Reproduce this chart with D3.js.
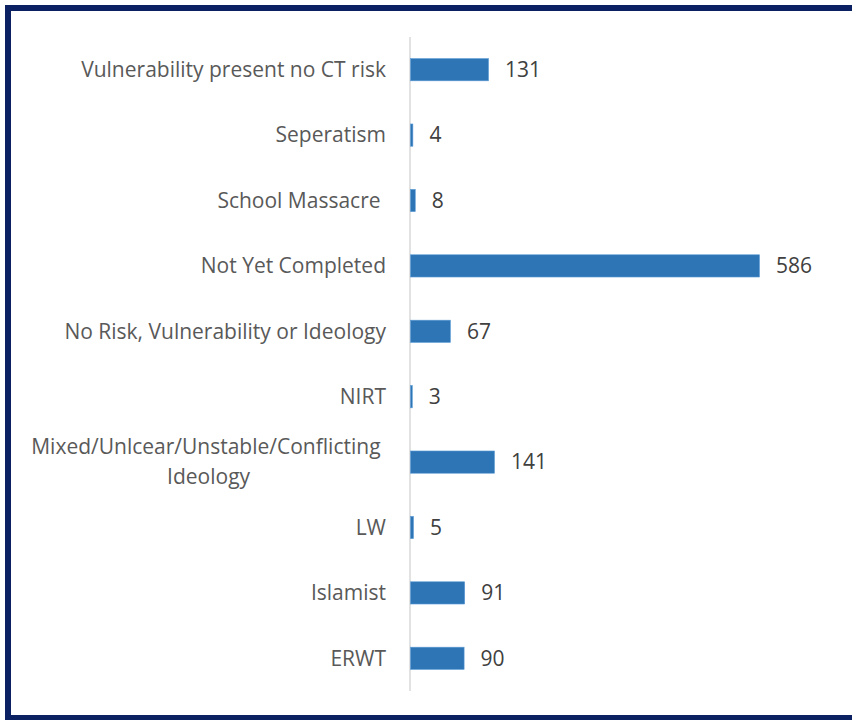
<!DOCTYPE html>
<html>
<head>
<meta charset="utf-8">
<script src="https://cdn.jsdelivr.net/npm/d3@7"></script>
<style>
  html, body { margin: 0; padding: 0; background: #fff; }
  text { white-space: pre; }
</style>
</head>
<body>
<div id="chart"></div>
<script>
// Categories, top to bottom, and their counts
var categories = [
    "Vulnerability present no CT risk",
    "Seperatism",
    "School Massacre ",
    "Not Yet Completed",
    "No Risk, Vulnerability or Ideology",
    "NIRT",
    "Mixed/Unlcear/Unstable/Conflicting \nIdeology",
    "LW",
    "Islamist",
    "ERWT"
];
var values = [131, 4, 8, 586, 67, 3, 141, 5, 91, 90];

var width = 852, height = 720;
var font = "'Open Sans', sans-serif";

var svg = d3.select("#chart")
    .append("svg")
    .attr("width", width)
    .attr("height", height);

// Dark frame round the chart
svg.append("rect")
    .attr("x", 8)
    .attr("y", 8)
    .attr("width", 852)
    .attr("height", 710)
    .style("fill", "#fff")
    .style("stroke", "#0b2161")
    .style("stroke-width", 6);

var data = categories.map(function (c, i) { return { name: c, value: values[i] }; });

// Scales
var x = d3.scaleLinear()
    .domain([0, 586])
    .range([410, 759]);

var y = d3.scaleBand()
    .domain(categories)
    .range([37, 691])
    .paddingInner(0.66)
    .paddingOuter(0.33);

// Vertical category axis line
svg.append("line")
    .attr("x1", x(0))
    .attr("x2", x(0))
    .attr("y1", 37)
    .attr("y2", 691)
    .style("stroke", "#d9d9d9")
    .style("stroke-width", 1.5);

// Bars
svg.selectAll(".bar")
    .data(data)
    .enter()
    .append("rect")
    .attr("class", "bar")
    .attr("x", x(0) + 0.5)
    .attr("y", function (d) { return y(d.name); })
    .attr("width", function (d) { return Math.max(1.5, x(d.value) - x(0)); })
    .attr("height", y.bandwidth())
    .style("fill", "#2e75b6")
    .style("stroke", "#5b9bd5")
    .style("stroke-width", 0.6);

// Value labels
svg.selectAll(".val")
    .data(data)
    .enter()
    .append("text")
    .attr("class", "val")
    .attr("x", function (d) { return x(d.value) + 17; })
    .attr("y", function (d) { return y(d.name) + y.bandwidth() / 2; })
    .attr("dy", "0.35em")
    .style("font-family", font)
    .style("font-size", "21px")
    .style("fill", "#404040")
    .text(function (d) { return d.value; });

// Category labels (multi-line labels are centred as a block, right-aligned)
var labelRight = 386;
data.forEach(function (d) {
    var lines = d.name.split("\n");
    var cy = y(d.name) + y.bandwidth() / 2;
    var g = svg.append("text")
        .style("font-family", font)
        .style("font-size", "21px")
        .style("fill", "#595959");
    if (lines.length === 1) {
        g.attr("x", labelRight)
            .attr("y", cy)
            .attr("dy", "0.35em")
            .attr("text-anchor", "end")
            .text(d.name);
    } else {
        var lh = 30;
        var spans = lines.map(function (l, i) {
            return g.append("tspan")
                .attr("y", cy + (i - (lines.length - 1) / 2) * lh)
                .attr("dy", "0.35em")
                .text(l);
        });
        var maxW = d3.max(spans, function (s) { return s.node().getComputedTextLength(); });
        var cx = labelRight - maxW / 2;
        g.attr("text-anchor", "middle");
        spans.forEach(function (s) { s.attr("x", cx); });
    }
});
</script>
</body>
</html>
